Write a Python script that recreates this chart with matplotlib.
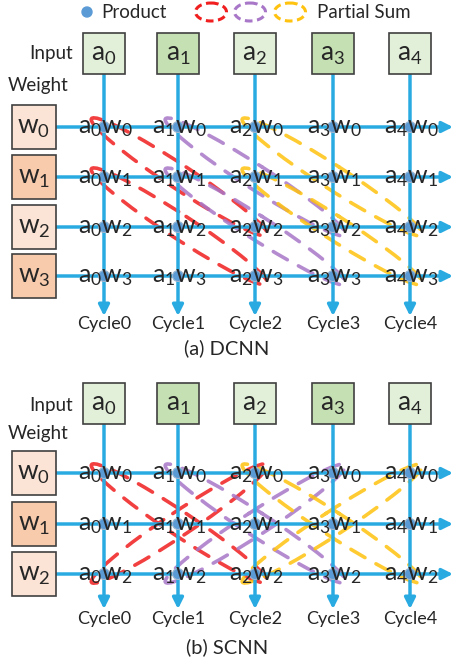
import numpy as np
import matplotlib
matplotlib.use('Agg')
import matplotlib.pyplot as plt
from matplotlib.patches import Ellipse, Rectangle, Circle

plt.rcParams['font.family'] = ['Lato', 'DejaVu Sans']
plt.rcParams['mathtext.fontset'] = 'custom'
plt.rcParams['mathtext.rm'] = 'Lato'
plt.rcParams['mathtext.it'] = 'Lato'

# ---- data ----
inputs = ['a', 'a', 'a', 'a', 'a']
input_idx = [0, 1, 2, 3, 4]
cycles = ['Cycle0', 'Cycle1', 'Cycle2', 'Cycle3', 'Cycle4']
dcnn_weights = [0, 1, 2, 3]
scnn_weights = [0, 1, 2]
# partial sums: (start input, start weight, end input, end weight, colour)
dcnn_sums = [(0, 0, 2, 2, 0), (0, 1, 2, 3, 0),
             (1, 0, 3, 2, 1), (1, 1, 3, 3, 1),
             (2, 0, 4, 2, 2), (2, 1, 4, 3, 2)]
scnn_sums = [(0, 0, 2, 2, 0), (0, 2, 2, 0, 0),
             (1, 0, 3, 2, 1), (1, 2, 3, 0, 1),
             (2, 0, 4, 2, 2), (2, 2, 4, 0, 2)]
titles = ['(a) DCNN', '(b) SCNN']

# ---- style ----
sum_colors = ['#f01e1e', '#a877c8', '#ffc20e']
line_c = '#29abe2'
dot_c = '#5b9bd5'
txt_c = '#262626'
in_colors = ['#e2efd9', '#c5e0b3']
w_colors = ['#fbe4d5', '#f8cbad']
col_x = [104, 178, 255, 333, 410]

fig = plt.figure(figsize=(4.54, 6.64), dpi=100)
ax = fig.add_axes([0, 0, 1, 1])
ax.set_xlim(0, 454)
ax.set_ylim(664, 0)
ax.axis('off')

# legend
ax.add_patch(Circle((87, 12), 5, color=dot_c, zorder=3))
ax.text(101, 12, 'Product', fontsize=13.5, color=txt_c, va='center')
for k, cx in enumerate([211, 250, 290]):
    ax.add_patch(Ellipse((cx, 12), 31, 18, fill=False, ec=sum_colors[k], lw=2.2,
                         ls=(0, (2.5, 1.5)), zorder=2))
ax.text(317, 12, 'Partial Sum', fontsize=13.5, color=txt_c, va='center')


def panel(box_top, rows, weights, sums, tip_y, cyc_y, title_y, title, in_y, wt_y):
    box_h = 41
    ax.text(73, in_y, 'Input', fontsize=13.5, color=txt_c, ha='right', va='center')
    ax.text(38, wt_y, 'Weight', fontsize=13.5, color=txt_c, ha='center', va='center')
    for i, x in enumerate(col_x):
        ax.add_patch(Rectangle((x - 21, box_top), 42, box_h, fc=in_colors[i % 2],
                               ec='#404040', lw=1.2, zorder=3))
        ax.text(x, box_top + box_h / 2 + 7, r'$\mathrm{%s}_{%d}$' % (inputs[i], input_idx[i]),
                fontsize=19, color=txt_c, ha='center', va='baseline', zorder=4)
        ax.annotate('', xy=(x, tip_y), xytext=(x, box_top + box_h),
                    arrowprops=dict(arrowstyle='-|>', color=line_c, lw=2.5,
                                    mutation_scale=16, shrinkA=0, shrinkB=0), zorder=2)
        ax.text(x, cyc_y, cycles[i], fontsize=13, color=txt_c, ha='center', va='center')
    for j, y in zip(weights, rows):
        ax.add_patch(Rectangle((12, y - 22), 44, 44, fc=w_colors[j % 2],
                               ec='#404040', lw=1.2, zorder=3))
        ax.text(34, y + 7, r'$\mathrm{w}_{%d}$' % j, fontsize=19, color=txt_c,
                ha='center', va='baseline', zorder=4)
        ax.annotate('', xy=(453, y), xytext=(56, y),
                    arrowprops=dict(arrowstyle='-|>', color=line_c, lw=2.5,
                                    mutation_scale=16, shrinkA=0, shrinkB=0), zorder=2)
        for i, x in enumerate(col_x):
            ax.add_patch(Circle((x, y), 5.5, fc=dot_c, ec='#9db7d0', lw=0.8, zorder=3))
            ax.text(x + 1, y + 6, r'$\mathrm{%s}_{%d}\mathrm{w}_{%d}$' % (inputs[i], input_idx[i], j),
                    fontsize=18, color=txt_c, ha='center', va='baseline', zorder=4)
    for i0, j0, i1, j1, c in sums:
        x0, y0 = col_x[i0], rows[j0]
        x1, y1 = col_x[i1], rows[j1]
        length = np.hypot(x1 - x0, y1 - y0)
        ang = np.degrees(np.arctan2(y1 - y0, x1 - x0))
        ax.add_patch(Ellipse(((x0 + x1) / 2, (y0 + y1) / 2), length + 30, 24, angle=ang,
                             fill=False, ec=sum_colors[c], lw=2.6, alpha=0.85,
                             ls=(0, (4.5, 3.5)), capstyle='round', zorder=1))
    ax.text(227, title_y, title, fontsize=14.5, color=txt_c, ha='center', va='center')


panel(33, [127, 177, 227, 276], dcnn_weights, dcnn_sums, 316, 324, 348, titles[0], 53, 85)
panel(383, [473, 524, 574], scnn_weights, scnn_sums, 609, 619, 647, titles[1], 406, 433)

fig.savefig('out.png', dpi=100)
